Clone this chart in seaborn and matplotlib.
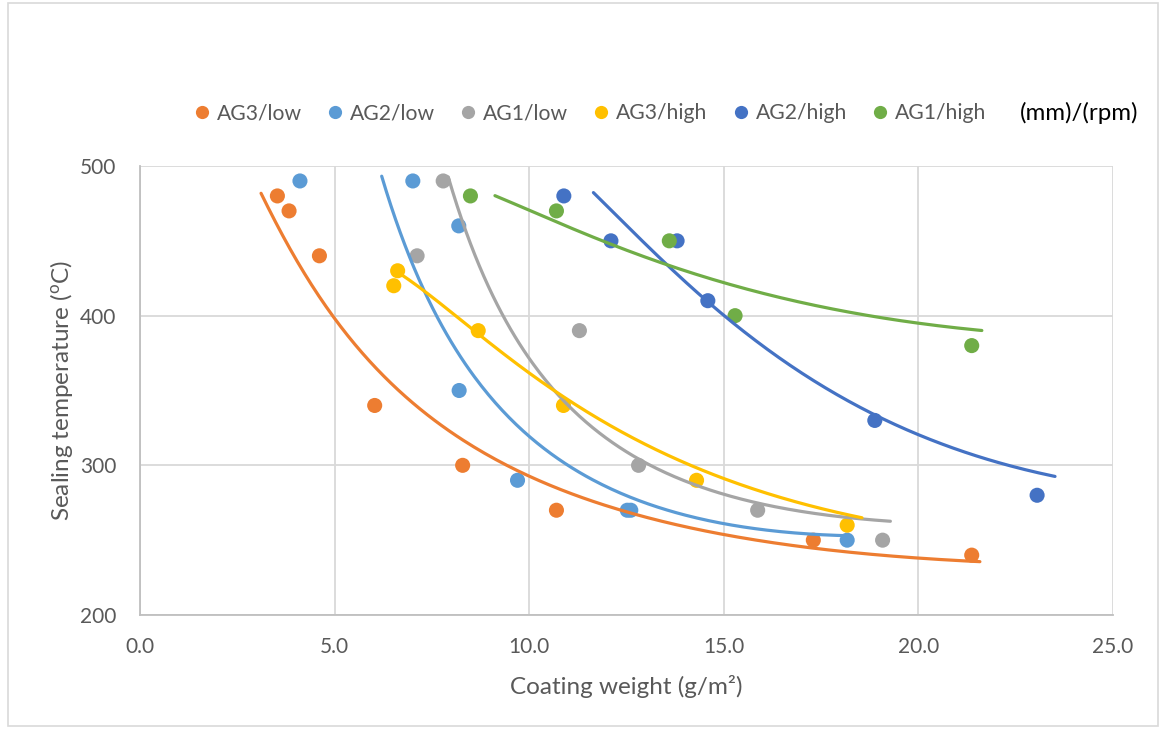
import numpy as np
import pandas as pd
import matplotlib
matplotlib.use("Agg")
import matplotlib.pyplot as plt
from matplotlib.lines import Line2D
from matplotlib.patches import Rectangle
import seaborn as sns

# ---- series (coating weight g/m2, sealing temperature C) ----
series_names = ["AG3/low", "AG2/low", "AG1/low", "AG3/high", "AG2/high", "AG1/high"]
series_colors = ["#ED7D31", "#5B9BD5", "#A5A5A5", "#FFC000", "#4472C4", "#70AD47"]

ag3_low_x = [3.53, 3.83, 4.61, 6.03, 8.29, 10.70, 17.30, 21.37]
ag3_low_y = [480, 470, 440, 340, 300, 270, 250, 240]
ag2_low_x = [4.11, 7.01, 8.19, 8.20, 9.70, 12.52, 12.61, 18.17]
ag2_low_y = [490, 490, 460, 350, 290, 270, 270, 250]
ag1_low_x = [7.79, 7.12, 11.29, 12.81, 15.87, 19.08]
ag1_low_y = [490, 440, 390, 300, 270, 250]
ag3_high_x = [6.62, 6.52, 8.69, 10.88, 14.30, 18.17]
ag3_high_y = [430, 420, 390, 340, 290, 260]
ag2_high_x = [10.89, 12.10, 13.80, 14.59, 18.88, 23.05]
ag2_high_y = [480, 450, 450, 410, 330, 280]
ag1_high_x = [8.49, 10.70, 13.60, 15.29, 21.37]
ag1_high_y = [480, 470, 450, 400, 380]

# ---- trend curves (readings along each fitted curve) ----
ag3_low_fit_x = [3.11, 5.01, 7.45, 10.01, 12.68, 15.0, 18.5, 21.58]
ag3_low_fit_y = [481, 400, 331.4, 291.3, 266.8, 255.6, 242.3, 234.5]
ag2_low_fit_x = [6.21, 7.45, 8.31, 9.17, 10.01, 10.79, 12.51, 15.0, 18.07]
ag2_low_fit_y = [490.6, 413, 372.6, 337, 316.9, 303.6, 279, 263.9, 251.9]
ag1_low_fit_x = [7.92, 8.31, 8.74, 9.34, 10.01, 10.88, 11.74, 12.81, 15.0, 18.5, 19.28]
ag1_low_fit_y = [488, 464, 435, 400, 370.4, 343, 323.6, 300, 283.5, 265.7, 261]
ag3_high_fit_x = [6.74, 7.45, 8.69, 10.01, 10.85, 12.85, 13.36, 15.0, 18.55]
ag3_high_fit_y = [427, 412.7, 389.3, 363.7, 343, 314.7, 310, 292.4, 264.6]
ag2_high_fit_x = [11.65, 13.62, 14.59, 16.97, 18.88, 20.01, 22.1, 23.51]
ag2_high_fit_y = [481.8, 432.7, 410, 361.3, 332, 321.4, 303.5, 291.3]
ag1_high_fit_x = [9.12, 10.01, 11.83, 12.85, 13.67, 15.0, 17.39, 20.0, 21.63]
ag1_high_fit_y = [480, 470.6, 450.5, 440.6, 432.7, 421.6, 407, 395, 390]

x_ticks = [0, 5, 10, 15, 20, 25]
x_tick_labels = ["0.0", "5.0", "10.0", "15.0", "20.0", "25.0"]
y_ticks = [200, 300, 400, 500]
y_minor_ticks = [250, 350, 450]

points = [(ag3_low_x, ag3_low_y), (ag2_low_x, ag2_low_y), (ag1_low_x, ag1_low_y),
          (ag3_high_x, ag3_high_y), (ag2_high_x, ag2_high_y), (ag1_high_x, ag1_high_y)]
fits = [(ag3_low_fit_x, ag3_low_fit_y), (ag2_low_fit_x, ag2_low_fit_y),
        (ag1_low_fit_x, ag1_low_fit_y), (ag3_high_fit_x, ag3_high_fit_y),
        (ag2_high_fit_x, ag2_high_fit_y), (ag1_high_fit_x, ag1_high_fit_y)]

frames = []
for name, (xs, ys) in zip(series_names, points):
    frames.append(pd.DataFrame({"weight": xs, "temp": ys, "series": name}))
df = pd.concat(frames, ignore_index=True)
palette = dict(zip(series_names, series_colors))

sns.set_style("white")
plt.rcParams["font.family"] = ["Lato", "DejaVu Sans"]
plt.rcParams["mathtext.fontset"] = "custom"
plt.rcParams["mathtext.rm"] = "Lato"

TXT = "#595959"
AX = "#BFBFBF"
GRID = "#D9D9D9"
FS = 15
FS_TITLE = 17.5
FS_LEG = 15.2

fig = plt.figure(figsize=(11.62, 7.29), dpi=100)
ax = fig.add_axes([140 / 1162, 1 - 615 / 729, 973 / 1162, 449 / 729])

sns.scatterplot(data=df, x="weight", y="temp", hue="series", palette=palette,
                hue_order=series_names, s=118, linewidth=0, legend=False,
                ax=ax, zorder=3)

# smooth trend curves: cubic fit in log-log space through the readings
for (fx, fy), col in zip(fits, series_colors):
    lx, ly = np.log(fx), np.log(fy)
    coef = np.polyfit(lx, ly, 3)
    xs = np.linspace(min(fx), max(fx), 200)
    ys = np.exp(np.polyval(coef, np.log(xs)))
    sns.lineplot(x=xs, y=ys, color=col, lw=2.3, ax=ax, sort=False,
                 estimator=None, zorder=4)

ax.set_xlim(0, 25)
ax.set_ylim(200, 500)
ax.set_xticks(x_ticks)
ax.set_xticklabels(x_tick_labels)
ax.set_yticks(y_ticks)
ax.set_yticks(y_minor_ticks, minor=True)
ax.grid(True, which="major", color=GRID, lw=1.3, zorder=0)
ax.set_axisbelow(True)

for s in ["top", "right"]:
    ax.spines[s].set_visible(False)
for s in ["left", "bottom"]:
    ax.spines[s].set_color(AX)
    ax.spines[s].set_linewidth(1.3)

ax.tick_params(axis="x", length=0, pad=15.5, labelsize=FS, labelcolor=TXT)
ax.tick_params(axis="y", which="both", direction="inout", length=10, width=1.3,
               color=AX, pad=12.0, labelsize=FS, labelcolor=TXT)

ax.set_xlabel("Coating weight (g/m\u00b2)", fontsize=FS_TITLE, color=TXT)
ax.set_ylabel(r"Sealing temperature ($\mathregular{^o}$C)", fontsize=FS_TITLE, color=TXT)
ax.xaxis.label.set_va("center")
ax.yaxis.label.set_va("center")
ax.xaxis.set_label_coords(0.5, (615 - 686) / 449)
ax.yaxis.set_label_coords((62 - 140) / 973, 0.5)

handles = [Line2D([], [], marker="o", ls="", color=c, markersize=9.5, markeredgewidth=0)
           for c in series_colors]
fig.legend(handles, series_names, loc="center left",
           bbox_to_anchor=(194.7 / 1162, 1 - 113 / 729), ncol=6, frameon=False,
           fontsize=FS_LEG, labelcolor=TXT, handlelength=0.7, handletextpad=0.37,
           columnspacing=1.2, borderpad=0, borderaxespad=0)
fig.text(1020 / 1162, 1 - 113 / 729, "(mm)/(rpm)", fontsize=17.3, color="black",
         ha="left", va="center")

fig.patches.append(Rectangle((8 / 1162, 3 / 729), 1150 / 1162, 723 / 729,
                             transform=fig.transFigure, fill=False,
                             edgecolor=GRID, lw=1.2))

fig.savefig("out.png", dpi=100, facecolor="white")
